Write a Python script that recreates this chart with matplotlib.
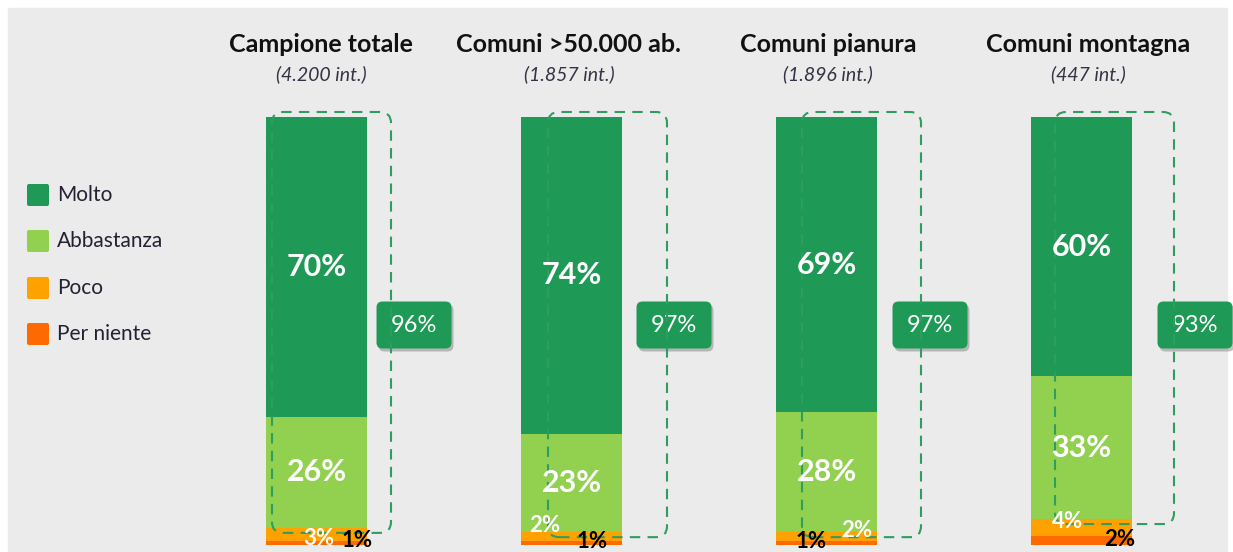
import numpy as np
import matplotlib
matplotlib.use("Agg")
import matplotlib.pyplot as plt
from matplotlib.patches import Rectangle, FancyBboxPatch

plt.rcParams["font.family"] = ["Lato", "DejaVu Sans"]

# Data
groups = ["Campione totale", "Comuni >50.000 ab.", "Comuni pianura", "Comuni montagna"]
samples = ["(4.200 int.)", "(1.857 int.)", "(1.896 int.)", "(447 int.)"]
molto = [70, 74, 69, 60]
abbastanza = [26, 23, 28, 33]
poco = [3, 2, 2, 4]
per_niente = [1, 1, 1, 2]
top2 = [96, 97, 97, 93]
legend_labels = ["Molto", "Abbastanza", "Poco", "Per niente"]

# Colours
c_molto = "#1e9a56"
c_abb = "#92d050"
c_poco = "#ffa200"
c_pn = "#ff6a00"
colors = [c_molto, c_abb, c_poco, c_pn]
bg = "#ebebeb"

# Layout (pixels)
W, H = 1233, 552
bar_x = [316.5, 571.5, 826.5, 1081.5]
title_x = [321, 569, 828, 1088]
bar_w = 101
y0_px, y100_px = 545, 117
ppp = (y0_px - y100_px) / 100.0   # pixels per percent
dash_left = [6, 27, 26, 24]       # dashed box offset from bar left
dash_w = 119
badge_x = [414, 674, 930, 1195]
badge_y = 325
# small label offsets (pixels) relative to segment centre
poco_off = [(2, -4), (-27, 11), (30, 6), (-14, 6)]
pn_off = [(41, 2), (21, 1), (-15, 1), (38, 1)]

fig = plt.figure(figsize=(W / 100, H / 100), dpi=100)
fig.patch.set_facecolor("white")

# overlay in pixel coords
ov = fig.add_axes([0, 0, 1, 1])
ov.set_xlim(0, W)
ov.set_ylim(H, 0)
ov.axis("off")
ov.add_patch(Rectangle((8, 8), W - 14, H - 8, color=bg, zorder=0))

# bar axes: x in pixels, y in percent
ax = fig.add_axes([0, (H - y0_px) / H, 1, (y0_px - y100_px) / H])
ax.set_xlim(0, W)
ax.set_ylim(0, 100)
ax.axis("off")
ax.patch.set_alpha(0)

df = np.array([per_niente, poco, abbastanza, molto], dtype=float)
shares = df / df.sum(axis=0) * 100
bottoms = np.vstack([np.zeros(4), np.cumsum(shares, axis=0)[:-1]])
seg_cols = [c_pn, c_poco, c_abb, c_molto]
for k in range(4):
    ax.bar(bar_x, shares[k], bottom=bottoms[k], width=bar_w, color=seg_cols[k],
           linewidth=0, zorder=2)

for i in range(4):
    # big labels
    for k, val in [(3, molto[i]), (2, abbastanza[i])]:
        ax.text(bar_x[i], bottoms[k][i] + shares[k][i] / 2, f"{val}%", color="white",
                fontsize=22, fontweight="bold", ha="center", va="center", zorder=5)
    # small labels
    ax.annotate(f"{poco[i]}%", (bar_x[i], bottoms[1][i] + shares[1][i] / 2),
                xytext=poco_off[i], textcoords="offset pixels", color="white",
                fontsize=16, fontweight="bold", ha="center", va="center", zorder=5,
                annotation_clip=False)
    ax.annotate(f"{per_niente[i]}%", (bar_x[i], bottoms[0][i] + shares[0][i] / 2),
                xytext=pn_off[i], textcoords="offset pixels", color="black",
                fontsize=16, fontweight="bold", ha="center", va="center", zorder=5,
                annotation_clip=False)

    # dashed rounded box around Molto + Abbastanza
    left = bar_x[i] - bar_w / 2 + dash_left[i]
    bot = bottoms[2][i] - 5 / ppp
    top = 100 + 5 / ppp
    box = FancyBboxPatch((left, bot), dash_w, top - bot,
                         boxstyle="round,pad=0,rounding_size=11",
                         mutation_aspect=1 / ppp, fill=False,
                         edgecolor="#2e9d5e", linewidth=1.5,
                         linestyle=(0, (5, 3.5)), zorder=4, clip_on=False)
    ax.add_patch(box)

    # badge with top-2 total
    bw, bh = 75, 47
    ov.add_patch(FancyBboxPatch((badge_x[i] - bw / 2 + 2, badge_y - bh / 2 + 3), bw, bh,
                                boxstyle="round,pad=0,rounding_size=6",
                                facecolor="#555555", edgecolor="none", alpha=0.35,
                                zorder=5))
    ov.add_patch(FancyBboxPatch((badge_x[i] - bw / 2, badge_y - bh / 2), bw, bh,
                                boxstyle="round,pad=0,rounding_size=6",
                                facecolor=c_molto, edgecolor="none", zorder=6))
    ov.text(badge_x[i], badge_y + 1, f"{top2[i]}%", color="white", fontsize=17,
            ha="center", va="center", zorder=7)

    # titles
    ov.text(title_x[i], 45, groups[i], fontsize=18, fontweight="bold",
            color="#111111", ha="center", va="center", zorder=3)
    ov.text(title_x[i], 74, samples[i], fontsize=14, style="italic",
            color="#333344", ha="center", va="center", zorder=3)

# legend
leg_y = [195, 241, 288, 334]
for lab, col, ly in zip(legend_labels, colors, leg_y):
    ov.add_patch(FancyBboxPatch((27, ly - 11), 22, 22,
                                boxstyle="round,pad=0,rounding_size=2",
                                facecolor=col, edgecolor="none", zorder=3))
    ov.text(57, ly, lab, fontsize=15, color="#222233", ha="left", va="center", zorder=3)

fig.savefig("out.png", dpi=100, facecolor="white")
